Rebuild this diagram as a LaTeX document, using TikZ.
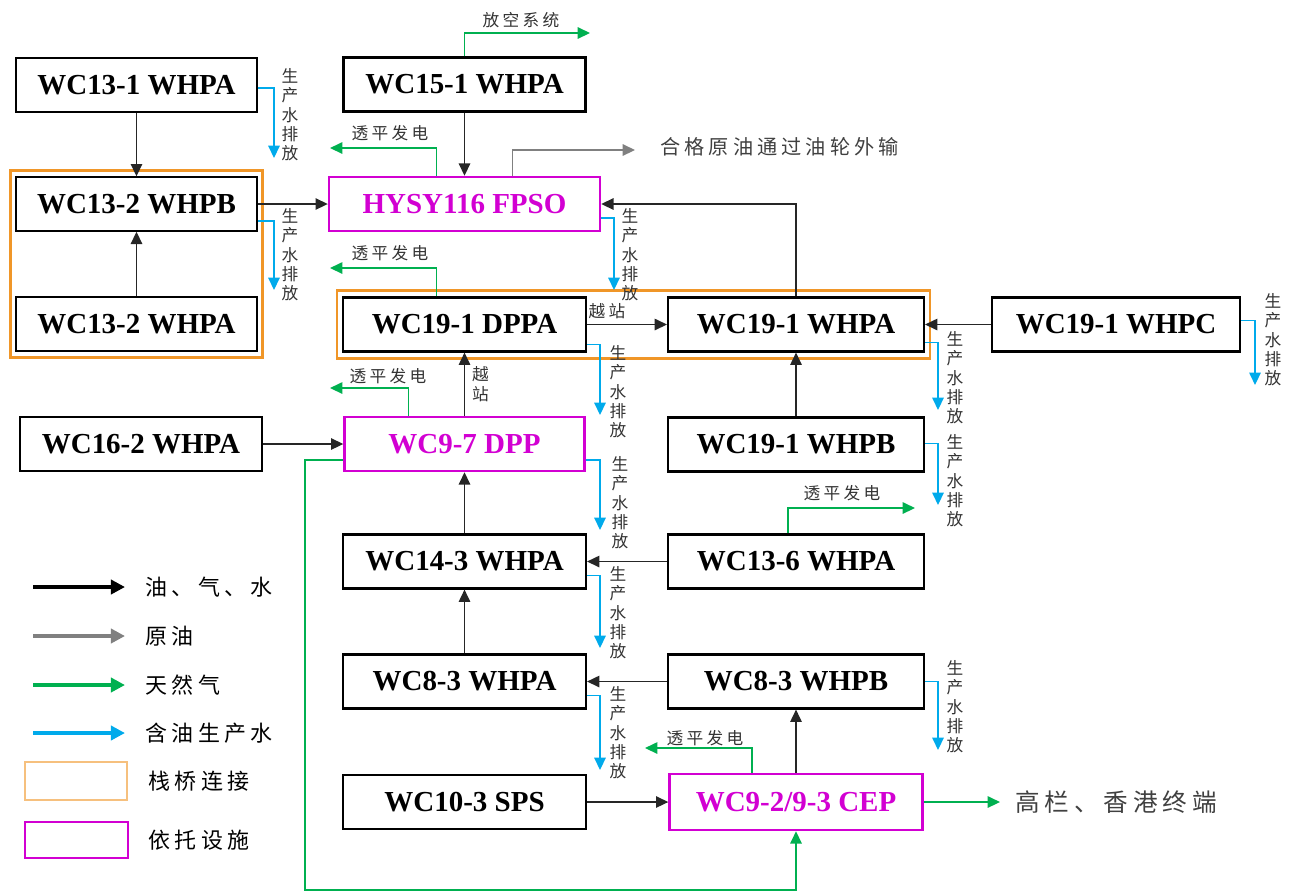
\documentclass[tikz,border=0pt]{standalone}
\usepackage{fontspec}
\setmainfont{Liberation Serif}
\newfontfamily\cjk[LetterSpace=20]{Noto Sans CJK SC}
\newfontfamily\cjkplain{Noto Sans CJK SC}
\usetikzlibrary{arrows.meta,calc,fit}
\definecolor{gasgreen}{RGB}{0,176,80}
\definecolor{waterblue}{RGB}{0,170,235}
\definecolor{oilgray}{RGB}{128,128,128}
\definecolor{bridgeorange}{RGB}{240,150,40}
\definecolor{hostmagenta}{RGB}{210,0,210}
\begin{document}
\begin{tikzpicture}[x=0.02cm,y=-0.02cm,>={Triangle[length=7pt,width=6.5pt]},
    plat/.style={draw,line width=1.2pt,minimum height=1.08cm,inner sep=0pt,
                 font=\fontsize{16.5}{18}\selectfont\bfseries},
    thinplat/.style={plat,line width=0.8pt},
    host/.style={plat,line width=1.4pt,draw=hostmagenta,text=hostmagenta},
    bridge/.style={draw=bridgeorange,line width=1.4pt,inner xsep=0.1cm,inner ysep=0.12cm},
    flow/.style={->,line width=0.8pt,black!85},
    gas/.style={->,gasgreen,line width=0.8pt},
    water/.style={->,waterblue,line width=0.8pt},
    crude/.style={->,oilgray,line width=0.9pt},
    key/.style={-{Triangle[length=8pt,width=8pt]},line width=2pt},
    vlab/.style={align=center,anchor=north,inner sep=0pt,text=black!80,
                 font=\cjkplain\fontsize{9.5}{11}\selectfont},
    glab/.style={inner sep=0pt,text=black!80,font=\cjk\fontsize{9.5}{11}\selectfont}]
\useasboundingbox (0,0) rectangle (1293,894);

\node[thinplat,minimum width=4.82cm] (c131) at (136.5,85) {WC13-1 WHPA};
\node[thinplat,minimum width=4.82cm] (c132b) at (136.5,204) {WC13-2 WHPB};
\node[thinplat,minimum width=4.82cm] (c132a) at (136.5,324) {WC13-2 WHPA};
\node[plat,minimum width=4.84cm] (c151) at (464.5,84.5) {WC15-1 WHPA};
\node[host,minimum width=5.42cm] (fpso) at (464.5,204) {HYSY116 FPSO};
\node[plat,minimum width=4.86cm] (dppa) at (464.5,324.5) {WC19-1 DPPA};
\node[plat,minimum width=5.12cm] (w191a) at (796,324.5) {WC19-1 WHPA};
\node[plat,minimum width=4.96cm] (w191c) at (1116,324.5) {WC19-1 WHPC};
\node[plat,minimum width=4.84cm] (w162) at (141,444) {WC16-2 WHPA};
\node[host,minimum width=4.8cm] (dpp) at (464.5,444) {WC9-7 DPP};
\node[plat,minimum width=5.12cm] (w191b) at (796,444.5) {WC19-1 WHPB};
\node[plat,minimum width=4.86cm] (w143) at (464.5,561.5) {WC14-3 WHPA};
\node[plat,minimum width=5.12cm] (w136) at (796,561.5) {WC13-6 WHPA};
\node[plat,minimum width=4.86cm] (w83a) at (464.5,681.5) {WC8-3 WHPA};
\node[plat,minimum width=5.12cm] (w83b) at (796,681.5) {WC8-3 WHPB};
\node[plat,minimum width=4.86cm] (sps) at (464.5,802) {WC10-3 SPS};
\node[host,minimum width=5.06cm,minimum height=1.12cm] (cep) at (796,802) {WC9-2/9-3 CEP};

\node[bridge,fit=(c132b)(c132a)] (br1) {};
\node[bridge,fit=(dppa)(w191a)] (br2) {};

\draw[flow] (c131) -- (c132b);
\draw[flow] (c132a) -- (c132b);
\draw[flow] (c132b) -- (fpso);
\draw[flow] (c151) -- (fpso);
\draw[flow] (w191a.north) |- (fpso.east);
\draw[flow] (dppa) -- node[pos=0.25,above=3pt,glab] (yz1) {越站} (w191a);
\draw[flow] (w191c) -- (w191a);
\draw[flow] (w191b) -- (w191a);
\draw[flow] (dpp) -- node[right=4pt,vlab,anchor=west] (yz2) {越\\站} (dppa);
\draw[flow] (w162) -- (dpp);
\draw[flow] (w143) -- (dpp);
\draw[flow] (w136) -- (w143);
\draw[flow] (w83a) -- (w143);
\draw[flow] (w83b) -- (w83a);
\draw[flow] (cep) -- (w83b);
\draw[flow] (sps) -- (cep);

\coordinate (vent) at (590,33);
\draw[gas] (c151.north) |- (vent);
\node[glab] (t0) at (521,20) {放空系统};
\coordinate (g1) at (330,148);
\draw[gas] ($(fpso.north)+(-28,0)$) |- (g1);
\node[glab] (t1) at (390,133) {透平发电};
\coordinate (g2) at (330,268);
\draw[gas] ($(dppa.north)+(-28,0)$) |- (g2);
\node[glab] (t2) at (390,253) {透平发电};
\coordinate (g3) at (330,388);
\draw[gas] ($(dpp.north)+(-56,0)$) |- (g3);
\node[glab] (t3) at (388,376) {透平发电};
\coordinate (g4) at (915,508);
\draw[gas] ($(w136.north)+(-8,0)$) |- (g4);
\node[glab] (t4) at (842,493) {透平发电};
\coordinate (g5) at (645,748);
\draw[gas] ($(cep.north)+(-44,0)$) |- (g5);
\node[glab] (t5) at (705,738) {透平发电};
\coordinate (loop) at (305,890);
\draw[gas] ($(dpp.west)+(0,16)$) -| (loop) -| (cep.south);
\coordinate (term) at (1000,802);
\draw[gas] (cep.east) -- (term);
\node[anchor=west,inner sep=0pt,font=\cjk\fontsize{14}{16}\selectfont,text=black!75] (termtext) at (1015,802) {高栏、香港终端};

\coordinate (ship) at (635,150);
\draw[crude] ($(fpso.north)+(48,0)$) |- (ship);
\node[anchor=west,inner sep=0pt,font=\cjk\fontsize{11.5}{13}\selectfont,text=black!75] (shiptext) at (660,147) {合格原油通过油轮外输};

\coordinate (d1) at (274,158);
\draw[water] ($(c131.east)+(0,3)$) -| (d1);
\node[vlab] (p1) at (290,68) {生\\产\\水\\排\\放};
\coordinate (d2) at (274,290);
\draw[water] ($(c132b.east)+(0,17)$) -| (d2);
\node[vlab] (p2) at (290,208) {生\\产\\水\\排\\放};
\coordinate (d3) at (614,290);
\draw[water] ($(fpso.east)+(0,14)$) -| (d3);
\node[vlab] (p3) at (630,208) {生\\产\\水\\排\\放};
\coordinate (d4) at (600,415);
\draw[water] ($(dppa.east)+(0,20)$) -| (d4);
\node[vlab] (p4) at (618,345) {生\\产\\水\\排\\放};
\coordinate (d5) at (938,410);
\draw[water] ($(w191a.east)+(0,18)$) -| (d5);
\node[vlab] (p5) at (955,331) {生\\产\\水\\排\\放};
\coordinate (d6) at (1255,385);
\draw[water] ($(w191c.east)+(0,-4)$) -| (d6);
\node[vlab] (p6) at (1273,293) {生\\产\\水\\排\\放};
\coordinate (d7) at (938,505);
\draw[water] ($(w191b.east)+(0,-1)$) -| (d7);
\node[vlab] (p7) at (955,434) {生\\产\\水\\排\\放};
\coordinate (d8) at (600,530);
\draw[water] ($(dpp.east)+(0,16)$) -| (d8);
\node[vlab] (p8) at (620,456) {生\\产\\水\\排\\放};
\coordinate (d9) at (600,648);
\draw[water] ($(w143.east)+(0,14)$) -| (d9);
\node[vlab] (p9) at (618,566) {生\\产\\水\\排\\放};
\coordinate (d10) at (600,770);
\draw[water] ($(w83a.east)+(0,14)$) -| (d10);
\node[vlab] (p10) at (618,686) {生\\产\\水\\排\\放};
\coordinate (d11) at (938,750);
\draw[water] ($(w83b.east)+(0,0)$) -| (d11);
\node[vlab] (p11) at (955,660) {生\\产\\水\\排\\放};

\coordinate (k1a) at (33,587);
\coordinate (k1b) at (125,587);
\draw[key] (k1a) -- (k1b);
\node[anchor=west,inner sep=0pt,font=\cjk\fontsize{12.5}{14}\selectfont] (kt1) at (145,587) {油、气、水};
\coordinate (k2a) at (33,636);
\coordinate (k2b) at (125,636);
\draw[key,oilgray] (k2a) -- (k2b);
\node[anchor=west,inner sep=0pt,font=\cjk\fontsize{12.5}{14}\selectfont] (kt2) at (145,636) {原油};
\coordinate (k3a) at (33,685);
\coordinate (k3b) at (125,685);
\draw[key,gasgreen] (k3a) -- (k3b);
\node[anchor=west,inner sep=0pt,font=\cjk\fontsize{12.5}{14}\selectfont] (kt3) at (145,685) {天然气};
\coordinate (k4a) at (33,733);
\coordinate (k4b) at (125,733);
\draw[key,waterblue] (k4a) -- (k4b);
\node[anchor=west,inner sep=0pt,font=\cjk\fontsize{12.5}{14}\selectfont] (kt4) at (145,733) {含油生产水};
\node[draw=bridgeorange!60,line width=1pt,minimum width=2.04cm,minimum height=0.76cm] (k5) at (76,781) {};
\node[anchor=west,inner sep=0pt,font=\cjk\fontsize{12.5}{14}\selectfont] (kt5) at (148,781) {栈桥连接};
\node[draw=hostmagenta,line width=1.3pt,minimum width=2.06cm,minimum height=0.72cm] (k6) at (76.5,840) {};
\node[anchor=west,inner sep=0pt,font=\cjk\fontsize{12.5}{14}\selectfont] (kt6) at (148,840) {依托设施};

\end{tikzpicture}
\end{document}
